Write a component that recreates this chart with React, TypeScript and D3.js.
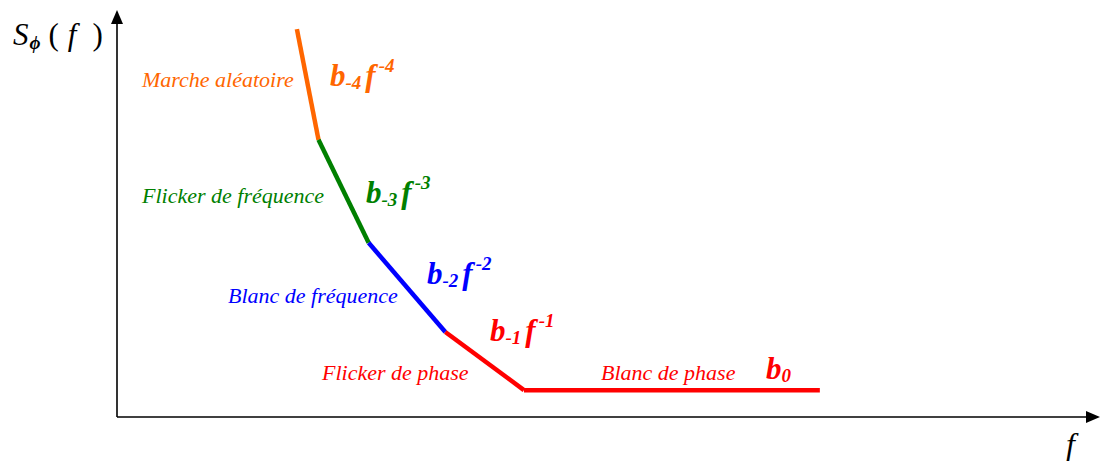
import React from "react"
import * as d3 from "d3"

// schematic spectrum of phase noise: breakpoints in abstract (log f, log S) units
const breakF = [1.83, 2.05, 2.56, 3.34, 4.14, 7.15]
const breakS = [9.53, 6.81, 4.28, 2.09, 0.66, 0.66]
const segmentColors = ["#ff6600", "#008000", "#0000ff", "#ff0000", "#ff0000"]

const noiseNames = ["Marche aléatoire", "Flicker de fréquence", "Blanc de fréquence", "Flicker de phase", "Blanc de phase"]
const coefSub = ["-4", "-3", "-2", "-1", "0"]
const coefSup = ["-4", "-3", "-2", "-1", ""]

const W = 1102
const H = 461
const FONT = "'Liberation Serif', 'Times New Roman', serif"

// label placement (pixels)
const nameAt = [
  { x: 142, y: 87 },
  { x: 142, y: 203 },
  { x: 228, y: 303 },
  { x: 322, y: 380 },
  { x: 601, y: 380 },
]
const coefAt = [
  { x: 330, y: 86 },
  { x: 366, y: 203 },
  { x: 427, y: 284 },
  { x: 490, y: 341 },
  { x: 766, y: 379 },
]
const labelColors = ["#ff6600", "#008000", "#0000ff", "#ff0000", "#ff0000"]

export default function App() {
  const x = d3.scaleLinear().domain([0, 10]).range([117, 1100])
  const y = d3.scaleLinear().domain([0, 10]).range([417, 10])

  const line = d3
    .line<number>()
    .x((i) => x(breakF[i]))
    .y((i) => y(breakS[i]))

  const segments = segmentColors.map((c, i) => ({ color: c, d: line([i, i + 1]) }))

  const x0 = x(0)
  const y0 = y(0)

  return (
    <svg
      width={W}
      height={H}
      style={{ position: "absolute", left: 0, top: 0, background: "#fff" }}
      fontFamily={FONT}
    >
      {/* axes */}
      <line x1={x0} y1={y0} x2={x(10) - 12} y2={y0} stroke="#000" strokeWidth={1.6} />
      <path d={`M${x(10)},${y0} L${x(10) - 14},${y0 - 6} L${x(10) - 14},${y0 + 6} Z`} fill="#000" />
      <line x1={x0} y1={y0} x2={x0} y2={y(10) + 12} stroke="#000" strokeWidth={1.6} />
      <path d={`M${x0},${y(10)} L${x0 - 6},${y(10) + 14} L${x0 + 6},${y(10) + 14} Z`} fill="#000" />

      {/* axis titles */}
      <text x={13} y={45} fontSize={31} fontStyle="italic">
        S
        <tspan fontSize={19} fontWeight="bold" dy={4} dx={1}>ϕ</tspan>
        <tspan fontStyle="normal" dy={-4} dx={8}>(</tspan>
        <tspan dx={9}>f</tspan>
        <tspan fontStyle="normal" dx={16}>)</tspan>
      </text>
      <text x={1066} y={455} fontSize={32} fontStyle="italic">f</text>

      {/* spectrum segments */}
      {segments.map((s, i) => (
        <path key={i} d={s.d ?? ""} stroke={s.color} strokeWidth={4.5} fill="none" strokeLinecap="butt" />
      ))}

      {/* noise names */}
      {noiseNames.map((n, i) => (
        <text key={n} x={nameAt[i].x} y={nameAt[i].y} fontSize={22} fontStyle="italic" fill={labelColors[i]}>
          {n}
        </text>
      ))}

      {/* coefficients */}
      {coefSub.map((sub, i) => (
        <text
          key={i}
          x={coefAt[i].x}
          y={coefAt[i].y}
          fontSize={31}
          fontStyle="italic"
          fontWeight="bold"
          fill={labelColors[i]}
        >
          b
          <tspan fontSize={19} dy={3}>{sub}</tspan>
          {coefSup[i] && (
            <>
              <tspan dy={-3} dx={4}>f</tspan>
              <tspan fontSize={19} dy={-14} dx={3}>{coefSup[i]}</tspan>
            </>
          )}
        </text>
      ))}
    </svg>
  )
}
